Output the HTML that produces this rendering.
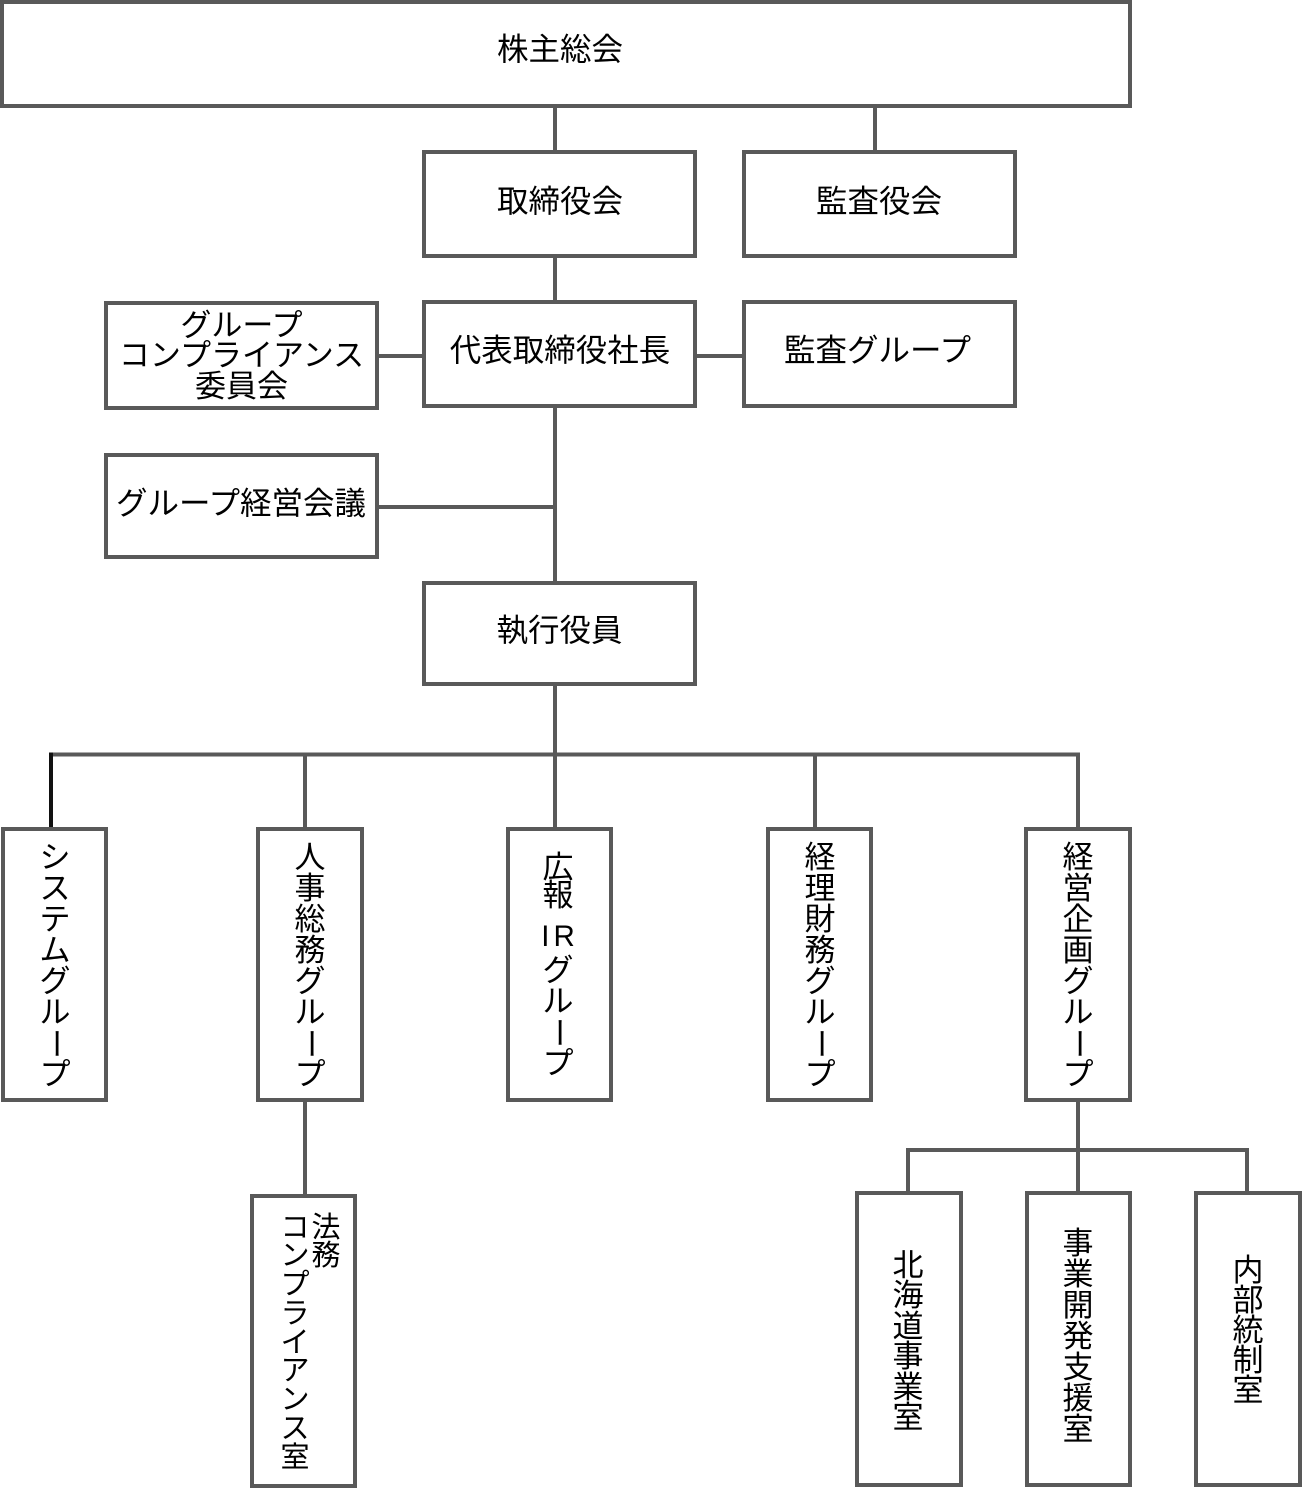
<!DOCTYPE html>
<html lang="ja">
<head>
<meta charset="utf-8">
<style>
  html, body { margin:0; padding:0; background:#fff; }
  body { width:1302px; height:1489px; position:relative; overflow:hidden;
         font-family:"Liberation Sans","Noto Sans CJK JP",sans-serif; color:#000; }
  svg { position:absolute; left:0; top:0; }
  .h { position:absolute; width:400px; text-align:center; font-size:31.5px; line-height:31.5px; white-space:nowrap; }
  .h31 { font-size:31px; line-height:31px; }
  .v { position:absolute; width:40px; text-align:center; font-size:31px; }
  .v div { line-height:31px; white-space:nowrap; }
  .r { display:inline-block; transform:rotate(90deg); }
</style>
</head>
<body>
<svg width="1302" height="1489" viewBox="0 0 1302 1489">
  <g fill="none" stroke="#595959" stroke-width="4">
    <rect x="2" y="2" width="1128" height="104"/>
    <rect x="424" y="152" width="271" height="104"/>
    <rect x="744" y="152" width="271" height="104"/>
    <rect x="424" y="302" width="271" height="104"/>
    <rect x="744" y="302" width="271" height="104"/>
    <rect x="106" y="303" width="271" height="105"/>
    <rect x="106" y="455" width="271" height="102"/>
    <rect x="424" y="583" width="271" height="101"/>
    <rect x="3" y="829" width="103" height="271"/>
    <rect x="258" y="829" width="104" height="271"/>
    <rect x="508" y="829" width="103" height="271"/>
    <rect x="768" y="829" width="103" height="271"/>
    <rect x="1026" y="829" width="104" height="271"/>
    <rect x="252" y="1196" width="103" height="290"/>
    <rect x="857" y="1193" width="104" height="292"/>
    <rect x="1027" y="1193" width="103" height="292"/>
    <rect x="1196" y="1193" width="104" height="292"/>
    <line x1="555" y1="108" x2="555" y2="150"/>
    <line x1="875" y1="108" x2="875" y2="150"/>
    <line x1="555" y1="258" x2="555" y2="300"/>
    <line x1="555" y1="408" x2="555" y2="581"/>
    <line x1="379" y1="356" x2="422" y2="356"/>
    <line x1="697" y1="356" x2="742" y2="356"/>
    <line x1="379" y1="507" x2="555" y2="507"/>
    <line x1="555" y1="686" x2="555" y2="827"/>
    <line x1="49" y1="754.5" x2="1080" y2="754.5"/>
    <line x1="305" y1="754" x2="305" y2="827"/>
    <line x1="815" y1="754" x2="815" y2="827"/>
    <line x1="1078" y1="752.5" x2="1078" y2="827"/>
    <line x1="305" y1="1102" x2="305" y2="1194"/>
    <line x1="1078" y1="1102" x2="1078" y2="1191"/>
    <line x1="906" y1="1150" x2="1249" y2="1150"/>
    <line x1="908" y1="1148" x2="908" y2="1191"/>
    <line x1="1247" y1="1148" x2="1247" y2="1191"/>
  </g>
  <line x1="51" y1="752.5" x2="51" y2="827" stroke="#111" stroke-width="4"/>
</svg>

<div class="h" style="left:360px;top:33.5px;">株主総会</div>
<div class="h" style="left:360px;top:185.5px;">取締役会</div>
<div class="h" style="left:679px;top:185.5px;">監査役会</div>
<div class="h" style="left:360px;top:334.5px;">代表取締役社長</div>
<div class="h" style="left:677.5px;top:334.5px;">監査グループ</div>
<div class="h h31" style="left:41.5px;top:309.5px;">グループ</div>
<div class="h h31" style="left:41.5px;top:339.5px;">コンプライアンス</div>
<div class="h h31" style="left:41.5px;top:370.5px;">委員会</div>
<div class="h" style="left:41px;top:487.5px;">グループ経営会議</div>
<div class="h" style="left:359.5px;top:614.5px;">執行役員</div>

<div class="v" style="left:35px;top:841.5px;">
  <div style="height:31px">シ</div><div style="height:31px">ス</div><div style="height:31px">テ</div><div style="height:31px">ム</div><div style="height:31px">グ</div><div style="height:31px">ル</div><div style="height:31px"><span class="r">ー</span></div><div style="height:31px">プ</div>
</div>
<div class="v" style="left:290px;top:841.5px;">
  <div style="height:31px">人</div><div style="height:31px">事</div><div style="height:31px">総</div><div style="height:31px">務</div><div style="height:31px">グ</div><div style="height:31px">ル</div><div style="height:31px"><span class="r">ー</span></div><div style="height:31px">プ</div>
</div>
<div class="v" style="left:538px;top:851.5px;">
  <div style="height:28px">広</div><div style="height:28px">報</div>
</div>
<div class="v" style="left:528px;top:919.5px;width:60px;">
  <div style="height:31px"><span style="font-size:29.5px;letter-spacing:4px;padding-left:4px;">IR</span></div>
</div>
<div class="v" style="left:538px;top:954.5px;">
  <div style="height:31px">グ</div><div style="height:31px">ル</div><div style="height:31px"><span class="r">ー</span></div><div style="height:31px">プ</div>
</div>
<div class="v" style="left:800px;top:841.5px;">
  <div style="height:31px">経</div><div style="height:31px">理</div><div style="height:31px">財</div><div style="height:31px">務</div><div style="height:31px">グ</div><div style="height:31px">ル</div><div style="height:31px"><span class="r">ー</span></div><div style="height:31px">プ</div>
</div>
<div class="v" style="left:1058px;top:841.5px;">
  <div style="height:31px">経</div><div style="height:31px">営</div><div style="height:31px">企</div><div style="height:31px">画</div><div style="height:31px">グ</div><div style="height:31px">ル</div><div style="height:31px"><span class="r">ー</span></div><div style="height:31px">プ</div>
</div>

<div class="v" style="left:306px;top:1212.5px;font-size:29px;">
  <div style="height:28.8px">法</div><div style="height:28.8px">務</div>
</div>
<div class="v" style="left:275px;top:1212.5px;font-size:29px;">
  <div style="height:28.8px">コ</div><div style="height:28.8px">ン</div><div style="height:28.8px">プ</div><div style="height:28.8px">ラ</div><div style="height:28.8px">イ</div><div style="height:28.8px">ア</div><div style="height:28.8px">ン</div><div style="height:28.8px">ス</div><div style="height:28.8px">室</div>
</div>

<div class="v" style="left:888px;top:1249.5px;">
  <div style="height:30.5px">北</div><div style="height:30.5px">海</div><div style="height:30.5px">道</div><div style="height:30.5px">事</div><div style="height:30.5px">業</div><div style="height:30.5px">室</div>
</div>
<div class="v" style="left:1058px;top:1227.5px;">
  <div style="height:31px">事</div><div style="height:31px">業</div><div style="height:31px">開</div><div style="height:31px">発</div><div style="height:31px">支</div><div style="height:31px">援</div><div style="height:31px">室</div>
</div>
<div class="v" style="left:1228px;top:1254.5px;">
  <div style="height:30px">内</div><div style="height:30px">部</div><div style="height:30px">統</div><div style="height:30px">制</div><div style="height:30px">室</div>
</div>
</body>
</html>
